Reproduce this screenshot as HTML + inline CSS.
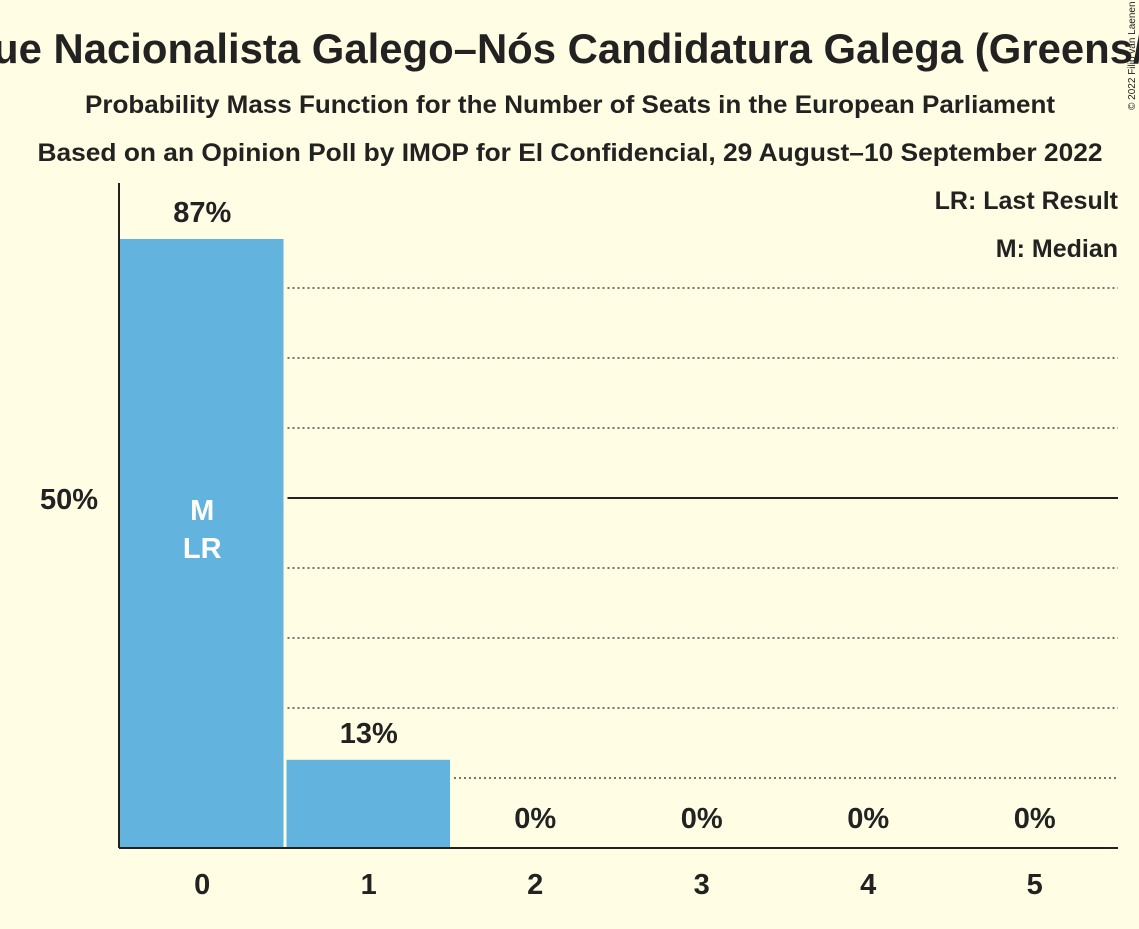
<!DOCTYPE html>
<html><head><meta charset="utf-8"><style>
body{margin:0;background:#fffde3;width:1139px;height:924px;overflow:hidden;font-family:"Liberation Sans",sans-serif}
svg text{font-family:"Liberation Sans",sans-serif;font-weight:bold;fill:#222}
</style></head><body>
<svg id="chart" width="1139" height="924">
<rect width="1139" height="924" fill="#fffde3"/>
<text x="570" y="63" font-size="42" text-anchor="middle" textLength="1340" lengthAdjust="spacingAndGlyphs">Bloque Nacionalista Galego–Nós Candidatura Galega (Greens/EFA)</text>
<text x="570" y="113" font-size="25" text-anchor="middle" textLength="970" lengthAdjust="spacingAndGlyphs">Probability Mass Function for the Number of Seats in the European Parliament</text>
<text x="570" y="161" font-size="25" text-anchor="middle" textLength="1065" lengthAdjust="spacingAndGlyphs">Based on an Opinion Poll by IMOP for El Confidencial, 29 August–10 September 2022</text>
<text transform="translate(1135,110) rotate(-90)" font-size="10" style="font-weight:normal">© 2022 Filip van Laenen</text>
<text x="1118" y="209" font-size="25" text-anchor="end">LR: Last Result</text>
<text x="1118" y="257" font-size="25" text-anchor="end">M: Median</text>
<g id="grid"></g><g id="bars"></g>
<line x1="119" y1="183" x2="119" y2="848" stroke="#222" stroke-width="2"/>
<line x1="119" y1="848" x2="1118" y2="848" stroke="#222" stroke-width="2"/>
<text x="98" y="509" font-size="29" text-anchor="end">50%</text>
</svg>
<script>
const seats=[0,1,2,3,4,5];
const probs=[87,12.6,0,0,0,0];
const labels=["87%","13%","0%","0%","0%","0%"];
const median=0, lastResult=0;
const NS="http://www.w3.org/2000/svg";
const x0=119,x1=1118,base=848,ppp=7;
const bw=(x1-x0)/seats.length;
const xs=i=>x0+i*bw, ys=v=>base-v*ppp;
const g=document.getElementById('grid'), b=document.getElementById('bars');
function mk(t,a,p){const e=document.createElementNS(NS,t);for(const k in a)e.setAttribute(k,a[k]);p.appendChild(e);return e;}
for(let v=10;v<=80;v+=10){
  let start=x0;
  for(let i=0;i<probs.length;i++) if(probs[i]>=v) start=xs(i+1);
  if(start>=x1) continue;
  const l=mk('line',{x1:start+2,x2:x1,y1:ys(v),y2:ys(v),stroke:'#222','stroke-width':v==50?2:1.3,'stroke-dasharray':v==50?'':'2,3'},g);
  
  
}
seats.forEach((s,i)=>{
  if(probs[i]>0){
    const r=mk('rect',{x:xs(i)+1,y:ys(probs[i]),width:bw-3,height:probs[i]*ppp,fill:'#62b3dd'},b);
    
    
  }
  const t=mk('text',{x:xs(i)+bw/2,y:(probs[i]>0?ys(probs[i])-17:base-20),'font-size':29,'text-anchor':'middle'},b);
  t.textContent=labels[i];
  
  
  const xt=mk('text',{x:xs(i)+bw/2,y:base+46,'font-size':29,'text-anchor':'middle'},b);
  xt.textContent=s;
  
  
});
const mt=mk('text',{x:xs(median)+bw/2,y:520,'font-size':29,'text-anchor':'middle',style:'fill:#fff'},b);
mt.textContent='M';


const lt=mk('text',{x:xs(lastResult)+bw/2,y:558,'font-size':29,'text-anchor':'middle',style:'fill:#fff'},b);
lt.textContent='LR';


</script>
</body></html>
